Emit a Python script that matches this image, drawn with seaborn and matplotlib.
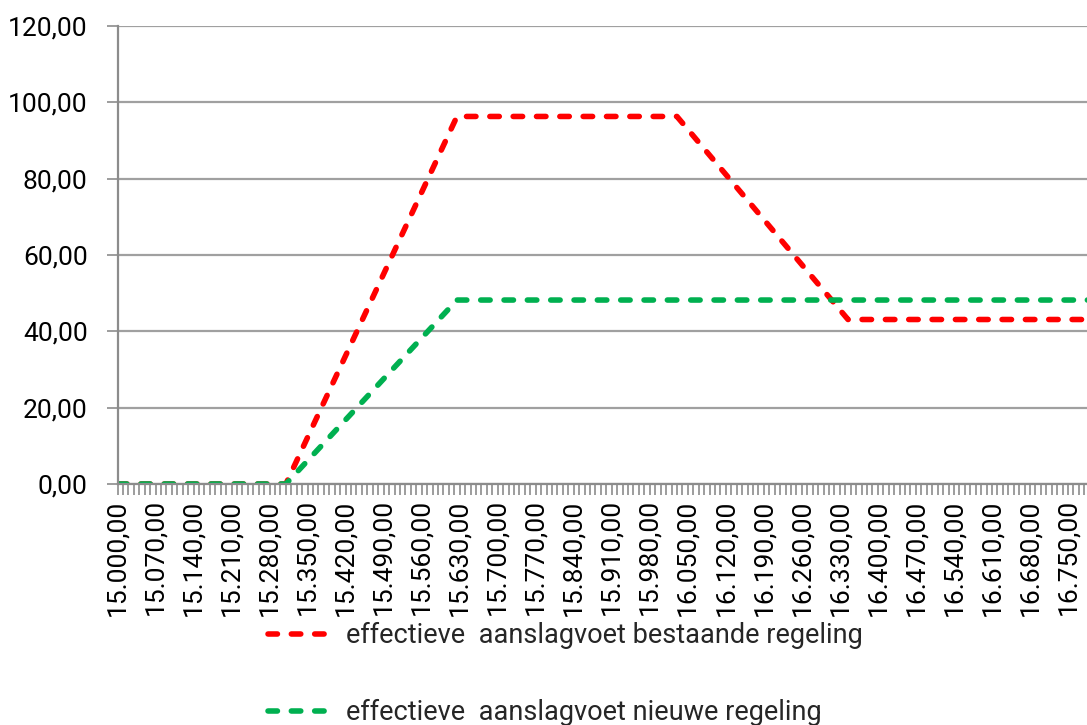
import numpy as np
import pandas as pd
import matplotlib
matplotlib.use("Agg")
import matplotlib.pyplot as plt
from matplotlib.ticker import FuncFormatter, FixedLocator
import seaborn as sns

# ==============================
# DATA
# ==============================

income = [15000, 15310, 15625, 16030, 16345, 16800]
rate_existing = [0.0, 0.0, 96.3, 96.3, 43.1, 43.1]
rate_new = [0.0, 0.0, 48.2, 48.2, 48.2, 48.2]

series_labels = [
    "effectieve  aanslagvoet bestaande regeling",
    "effectieve  aanslagvoet nieuwe regeling",
]
series_colors = ["#FF0000", "#00B050"]

y_ticks = [0, 20, 40, 60, 80, 100, 120]
x_major = list(range(15000, 16790, 70))
x_minor = list(range(15000, 16800, 10))

# ==============================
# STYLE
# ==============================

sns.set_style("white")
plt.rcParams["font.family"] = ["Roboto", "DejaVu Sans"]

GRAY = "#8C8C8C"
FS = 19
LW = 4.0
DASH = (1.7, 2.5)


def nl(v, pos=None):
    s = f"{v:,.2f}"
    return s.replace(",", "X").replace(".", ",").replace("X", ".")


fig = plt.figure(figsize=(10.87, 7.25), dpi=100)
ax = fig.add_axes([117.5 / 1087, (725 - 484) / 725, 1 - 117.5 / 1087, (484 - 26) / 725])

df = pd.DataFrame({"x": income, "bestaand": rate_existing, "nieuw": rate_new})

for col, lab, c in zip(["bestaand", "nieuw"], series_labels, series_colors):
    sns.lineplot(data=df, x="x", y=col, ax=ax, color=c, label=lab, linewidth=LW)

for line in ax.get_lines():
    line.set_dashes(DASH)
    line.set_dash_capstyle("round")
    line.set_dash_joinstyle("round")

ax.set_xlim(15000, 16785)
ax.set_ylim(0, 120)
ax.set_xlabel("")
ax.set_ylabel("")

ax.yaxis.set_major_locator(FixedLocator(y_ticks))
ax.yaxis.set_major_formatter(FuncFormatter(nl))
ax.xaxis.set_major_locator(FixedLocator(x_major))
ax.xaxis.set_minor_locator(FixedLocator(x_minor))
ax.xaxis.set_major_formatter(FuncFormatter(nl))

ax.yaxis.grid(True, color="#A0A0A0", linewidth=1.6)
ax.set_axisbelow(True)

for side in ["top", "right"]:
    ax.spines[side].set_visible(False)
for side in ["left", "bottom"]:
    ax.spines[side].set_color(GRAY)
    ax.spines[side].set_linewidth(1.6)

ax.tick_params(axis="both", which="both", direction="out", color=GRAY,
               width=1.2, length=8, labelsize=FS, labelcolor="black")
ax.tick_params(axis="x", which="both", bottom=True, pad=3)
ax.tick_params(axis="y", left=True, pad=13.5)
plt.setp(ax.get_xticklabels(), rotation=90)

handles, labels = ax.get_legend_handles_labels()
ax.get_legend().remove()
leg = fig.legend(handles, labels, loc="upper left",
                 bbox_to_anchor=(268 / 1087, (725 - 622) / 725),
                 frameon=False, fontsize=19.5, borderpad=0, borderaxespad=0,
                 handlelength=2.5, handletextpad=0.38, labelspacing=1.86)
for h in leg.get_lines():
    h.set_dashes(DASH)
    h.set_dash_capstyle("round")

fig.savefig("out.png", dpi=100)
